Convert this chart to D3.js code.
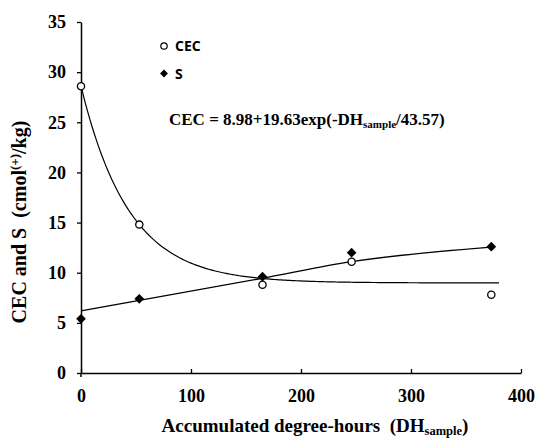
<!DOCTYPE html>
<html>
<head>
  <meta charset="utf-8">
  <title>CEC and S</title>
  <script src="https://cdn.jsdelivr.net/npm/d3@7/dist/d3.min.js"></script>
  <style>
    body { margin: 0; background: #fff; }
  </style>
</head>
<body>
  <svg width="537" height="439" id="mainsvg"></svg>
  <script>
    // data
    const dh = [0, 53, 165, 246, 373];
    const cecValues = [28.6, 14.8, 8.8, 11.1, 7.8];
    const sValues = [5.4, 7.4, 9.6, 12.0, 12.6];
    // trend line for S
    const sTrendX = [0, 165, 246, 373];
    const sTrendY = [6.2, 9.45, 11.1, 12.55];
    // fitted curve parameters (from the equation shown)
    const fitA = 8.98, fitB = 19.63, fitC = 43.57;
    const fitSteps = d3.range(0, 382, 2);
    const xTicks = [0, 100, 200, 300, 400];
    const yTicks = [0, 5, 10, 15, 20, 25, 30, 35];

    const SERIF = "'Liberation Serif', 'Times New Roman', Times, serif";
    const SANS = "'Open Sans', 'Liberation Sans', sans-serif";

    const svg = d3.select('#mainsvg');
    const margin = { top: 22, right: 16, bottom: 66, left: 81 };
    const innerWidth = 537 - margin.left - margin.right;
    const innerHeight = 439 - margin.top - margin.bottom;

    const g = svg.append('g')
      .attr('transform', `translate(${margin.left}, ${margin.top})`);

    const x = d3.scaleLinear().domain([0, 400]).range([0, innerWidth]);
    const y = d3.scaleLinear().domain([0, 35]).range([innerHeight, 0]);

    // axes: x ticks point inward, y ticks outward
    const xAxis = d3.axisBottom(x).tickValues(xTicks).tickSizeInner(-4).tickSizeOuter(0).tickPadding(16);
    const yAxis = d3.axisLeft(y).tickValues(yTicks).tickSizeInner(4).tickSizeOuter(0).tickPadding(11);

    const xg = g.append('g').attr('transform', `translate(0, ${innerHeight})`).call(xAxis);
    const yg = g.append('g').call(yAxis);
    [xg, yg].forEach(a => {
      a.attr('font-family', null).attr('font-size', null);
      a.select('.domain').attr('stroke', '#000').attr('stroke-width', 1.5);
      a.selectAll('.tick line').attr('stroke', '#000').attr('stroke-width', 1.3);
      a.selectAll('.tick text').attr('fill', '#000')
        .style('font-family', SERIF).style('font-size', '18px').style('font-weight', 'bold');
    });
    // y axis line runs a little past the x axis
    g.append('line').attr('x1', 0).attr('x2', 0).attr('y1', innerHeight).attr('y2', innerHeight + 4)
      .attr('stroke', '#000').attr('stroke-width', 1.5);

    // fitted CEC curve
    const line = d3.line().x(d => x(d[0])).y(d => y(d[1]));
    g.append('path')
      .datum(fitSteps.map(t => [t, fitA + fitB * Math.exp(-t / fitC)]))
      .attr('d', line).attr('fill', 'none').attr('stroke', '#000').attr('stroke-width', 1.2);

    // S trend
    g.append('path')
      .datum(sTrendX.map((t, i) => [t, sTrendY[i]]))
      .attr('d', line.curve(d3.curveMonotoneX)).attr('fill', 'none').attr('stroke', '#000').attr('stroke-width', 1.4);

    // markers
    const diamond = d3.symbol().type(d3.symbolDiamond2).size(60);
    g.selectAll('.s').data(dh).join('path')
      .attr('transform', (d, i) => `translate(${x(d)}, ${y(sValues[i])})`)
      .attr('d', diamond).attr('fill', '#000');
    g.selectAll('.cec').data(dh).join('circle')
      .attr('cx', d => x(d)).attr('cy', (d, i) => y(cecValues[i])).attr('r', 3.6)
      .attr('fill', '#fff').attr('stroke', '#000').attr('stroke-width', 1.3);

    // legend
    svg.append('circle').attr('cx', 164).attr('cy', 46).attr('r', 3.2)
      .attr('fill', '#fff').attr('stroke', '#000').attr('stroke-width', 1.2);
    svg.append('text').text('CEC').attr('x', 175).attr('y', 51)
      .style('font-family', SANS).style('font-weight', 'bold').style('font-size', '14px');
    svg.append('path').attr('d', d3.symbol().type(d3.symbolDiamond2).size(40))
      .attr('transform', 'translate(164, 73.5)').attr('fill', '#000');
    svg.append('text').text('S').attr('x', 175).attr('y', 78.5)
      .style('font-family', SANS).style('font-weight', 'bold').style('font-size', '14px');

    // equation
    const eq = svg.append('text').attr('x', 169).attr('y', 125)
      .style('font-family', SERIF).style('font-weight', 'bold').style('font-size', '17px');
    eq.append('tspan').text('CEC = 8.98+19.63exp(-DH');
    eq.append('tspan').text('sample').style('font-size', '11px').attr('dy', 3);
    eq.append('tspan').text('/43.57)').attr('dy', -3);

    // axis titles
    const xt = svg.append('text').attr('x', 315).attr('y', 432).attr('text-anchor', 'middle')
      .style('font-family', SERIF).style('font-weight', 'bold').style('font-size', '19px');
    xt.append('tspan').text('Accumulated degree-hours\u00a0\u00a0(DH');
    xt.append('tspan').text('sample').style('font-size', '12.5px').attr('dy', 3);
    xt.append('tspan').text(')').attr('dy', -3);

    const yt = svg.append('text').attr('transform', 'translate(26, 222) rotate(-90)').attr('text-anchor', 'middle')
      .style('font-family', SERIF).style('font-weight', 'bold').style('font-size', '20px');
    yt.append('tspan').text('CEC and S\u00a0\u00a0(cmol');
    yt.append('tspan').text('(+)').style('font-size', '13px').attr('dy', -7);
    yt.append('tspan').text('/kg)').attr('dy', 7);
  </script>
</body>
</html>
